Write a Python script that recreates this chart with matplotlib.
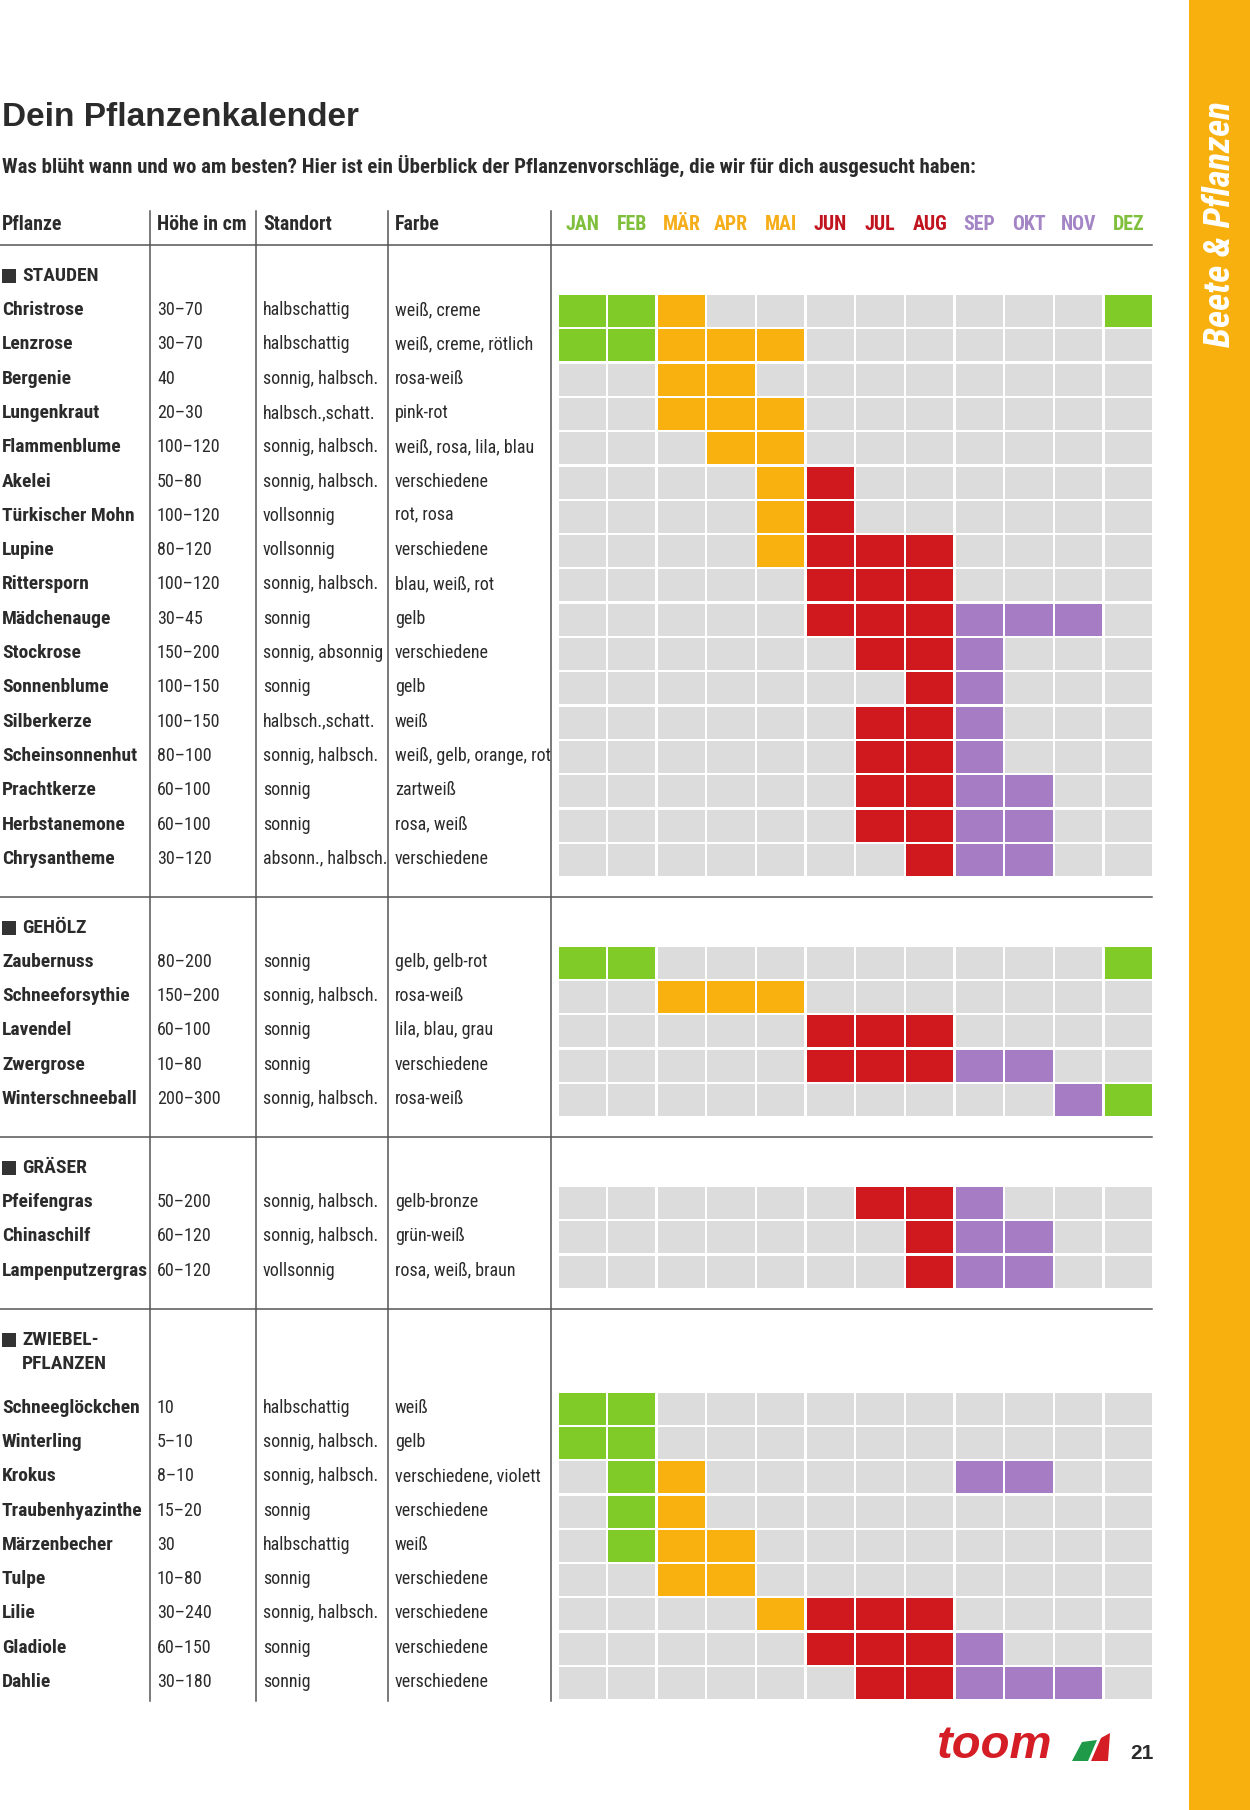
import matplotlib
matplotlib.use("Agg")
import matplotlib.pyplot as plt
from matplotlib import font_manager
from matplotlib.patches import Rectangle, Polygon

# --- data -------------------------------------------------------------
months = ["JAN", "FEB", "MÄR", "APR", "MAI", "JUN", "JUL", "AUG", "SEP", "OKT", "NOV", "DEZ"]
month_season = ["winter", "winter", "spring", "spring", "spring", "summer",
                "summer", "summer", "autumn", "autumn", "autumn", "winter"]

section_names = [["STAUDEN"], ["GEHÖLZ"], ["GRÄSER"], ["ZWIEBEL-", "PFLANZEN"]]
section_counts = [17, 5, 3, 9]

plants = ["Christrose", "Lenzrose", "Bergenie", "Lungenkraut", "Flammenblume", "Akelei",
          "Türkischer Mohn", "Lupine", "Rittersporn", "Mädchenauge", "Stockrose", "Sonnenblume",
          "Silberkerze", "Scheinsonnenhut", "Prachtkerze", "Herbstanemone", "Chrysantheme",
          "Zaubernuss", "Schneeforsythie", "Lavendel", "Zwergrose", "Winterschneeball",
          "Pfeifengras", "Chinaschilf", "Lampenputzergras",
          "Schneeglöckchen", "Winterling", "Krokus", "Traubenhyazinthe", "Märzenbecher",
          "Tulpe", "Lilie", "Gladiole", "Dahlie"]

hoehe = ["30–70", "30–70", "40", "20–30", "100–120", "50–80", "100–120", "80–120", "100–120",
         "30–45", "150–200", "100–150", "100–150", "80–100", "60–100", "60–100", "30–120",
         "80–200", "150–200", "60–100", "10–80", "200–300",
         "50–200", "60–120", "60–120",
         "10", "5–10", "8–10", "15–20", "30", "10–80", "30–240", "60–150", "30–180"]

standort = ["halbschattig", "halbschattig", "sonnig, halbsch.", "halbsch.,schatt.",
            "sonnig, halbsch.", "sonnig, halbsch.", "vollsonnig", "vollsonnig",
            "sonnig, halbsch.", "sonnig", "sonnig, absonnig", "sonnig", "halbsch.,schatt.",
            "sonnig, halbsch.", "sonnig", "sonnig", "absonn., halbsch.",
            "sonnig", "sonnig, halbsch.", "sonnig", "sonnig", "sonnig, halbsch.",
            "sonnig, halbsch.", "sonnig, halbsch.", "vollsonnig",
            "halbschattig", "sonnig, halbsch.", "sonnig, halbsch.", "sonnig", "halbschattig",
            "sonnig", "sonnig, halbsch.", "sonnig", "sonnig"]

farbe = ["weiß, creme", "weiß, creme, rötlich", "rosa-weiß", "pink-rot", "weiß, rosa, lila, blau",
         "verschiedene", "rot, rosa", "verschiedene", "blau, weiß, rot", "gelb", "verschiedene",
         "gelb", "weiß", "weiß, gelb, orange, rot", "zartweiß", "rosa, weiß", "verschiedene",
         "gelb, gelb-rot", "rosa-weiß", "lila, blau, grau", "verschiedene", "rosa-weiß",
         "gelb-bronze", "grün-weiß", "rosa, weiß, braun",
         "weiß", "gelb", "verschiedene, violett", "verschiedene", "weiß", "verschiedene",
         "verschiedene", "verschiedene", "verschiedene"]

# bloom months (1 = JAN ... 12 = DEZ)
bluete = [[1, 2, 3, 12], [1, 2, 3, 4, 5], [3, 4], [3, 4, 5], [4, 5], [5, 6], [5, 6],
          [5, 6, 7, 8], [6, 7, 8], [6, 7, 8, 9, 10, 11], [7, 8, 9], [8, 9], [7, 8, 9],
          [7, 8, 9], [7, 8, 9, 10], [7, 8, 9, 10], [8, 9, 10],
          [1, 2, 12], [3, 4, 5], [6, 7, 8], [6, 7, 8, 9, 10], [11, 12],
          [7, 8, 9], [8, 9, 10], [8, 9, 10],
          [1, 2], [1, 2], [2, 3, 9, 10], [2, 3], [2, 3, 4], [3, 4], [5, 6, 7, 8],
          [6, 7, 8, 9], [7, 8, 9, 10, 11]]

columns = ["Pflanze", "Höhe in cm", "Standort", "Farbe"]

# --- style ------------------------------------------------------------
fill = {"winter": "#80cb27", "spring": "#f8b10f", "summer": "#d0191f", "autumn": "#a67cc4"}
head = {"winter": "#7fbf3b", "spring": "#f5ae19", "summer": "#c0141e", "autumn": "#a384c5"}
empty = "#dcdcdc"
ink = "#2b2b2b"
rule = "#555555"
orange = "#f8b00f"

names = {f.name for f in font_manager.fontManager.ttflist}
narrow = next((n for n in ["Roboto Condensed", "Liberation Sans Narrow", "DejaVu Sans"]
               if n in names), "DejaVu Sans")
stretch = "condensed" if narrow == "DejaVu Sans" else "normal"
wide = "Liberation Sans" if "Liberation Sans" in names else "DejaVu Sans"

fig = plt.figure(figsize=(12.5, 18.1), dpi=100)
ax = fig.add_axes([0, 0, 1, 1])
ax.set_xlim(0, 1250)
ax.set_ylim(1810, 0)
ax.axis("off")

def txt(x, y, s, size=13.0, weight="normal", color=ink, **kw):
    kw.setdefault("family", narrow)
    kw.setdefault("stretch", stretch)
    ax.text(x, y, s, fontsize=size, fontweight=weight, color=color,
            va="center", ha=kw.pop("ha", "left"), **kw)

# layout
col_x = [2, 157, 263, 395]
div_x = [150, 256, 388, 551]
grid_x0, pitch_x, cell_w = 558.5, 49.65, 47.3
pitch_y, cell_h = 34.3, 32.0
right_edge = grid_x0 + 11 * pitch_x + cell_w

# title block
txt(2, 118, "Dein Pflanzenkalender", size=24, weight="bold", family=wide, stretch="normal")
txt(2, 166, "Was blüht wann und wo am besten? Hier ist ein Überblick der Pflanzenvorschläge, "
    "die wir für dich ausgesucht haben:", size=15, weight="bold")

# header
header_y = 224
for x, c in zip(col_x, columns):
    txt(x, header_y, c, size=14.3, weight="bold")
for i, m in enumerate(months):
    txt(grid_x0 + i * pitch_x + cell_w / 2, header_y, m, size=14.3, weight="bold",
        color=head[month_season[i]], ha="center")

line_y = 245
ax.plot([0, right_edge], [line_y, line_y], color=rule, lw=1.1)

row = 0
for s, (label, count) in enumerate(zip(section_names, section_counts)):
    lab_y = line_y + 31
    for k, part in enumerate(label):
        txt(22, lab_y + k * 24, part, size=14, weight="bold")
    ax.add_patch(Rectangle((2, lab_y - 7), 14, 14, color="#333333", lw=0))
    y = lab_y + 24 * (len(label) - 1) + 34 + (10 if len(label) > 1 else 0)
    for r in range(count):
        i = row + r
        yy = y + r * pitch_y
        txt(col_x[0], yy, plants[i], size=14, weight="bold")
        txt(col_x[1], yy, hoehe[i])
        txt(col_x[2], yy, standort[i])
        txt(col_x[3], yy, farbe[i])
        colors = [fill[month_season[m]] if (m + 1) in bluete[i] else empty for m in range(12)]
        ax.bar([grid_x0 + m * pitch_x for m in range(12)], [cell_h] * 12,
               bottom=yy + 1 - cell_h / 2, width=cell_w, align="edge", color=colors, lw=0)
    row += count
    last_y = y + (count - 1) * pitch_y
    if s < len(section_names) - 1:
        line_y = last_y + 38
        ax.plot([0, right_edge], [line_y, line_y], color=rule, lw=1.1)
    else:
        bottom_y = last_y + 19

for x in div_x:
    ax.plot([x, x], [211, bottom_y], color=rule, lw=1.1)

# side bar
ax.add_patch(Rectangle((1189, 0), 61, 1810, color=orange, lw=0))
txt(1220, 224, "Beete & Pflanzen", size=26.5, weight="heavy", color="white",
    rotation=90, ha="center", style="italic")

# footer logo and page number
txt(994, 1746, "toom", size=34, weight="heavy", color="#d51d25", ha="center",
    style="italic", family=wide, stretch="normal")
ax.add_patch(Polygon([[1072, 1761], [1082, 1742], [1097, 1740], [1088, 1761]],
                     color="#1e9a48", lw=0))
ax.add_patch(Polygon([[1091, 1761], [1101, 1738], [1110, 1733], [1108, 1761]],
                     color="#d51d25", lw=0))
txt(1142, 1753, "21", size=15, weight="bold", family=wide, stretch="normal", ha="center")

fig.savefig("out.png", dpi=100)
